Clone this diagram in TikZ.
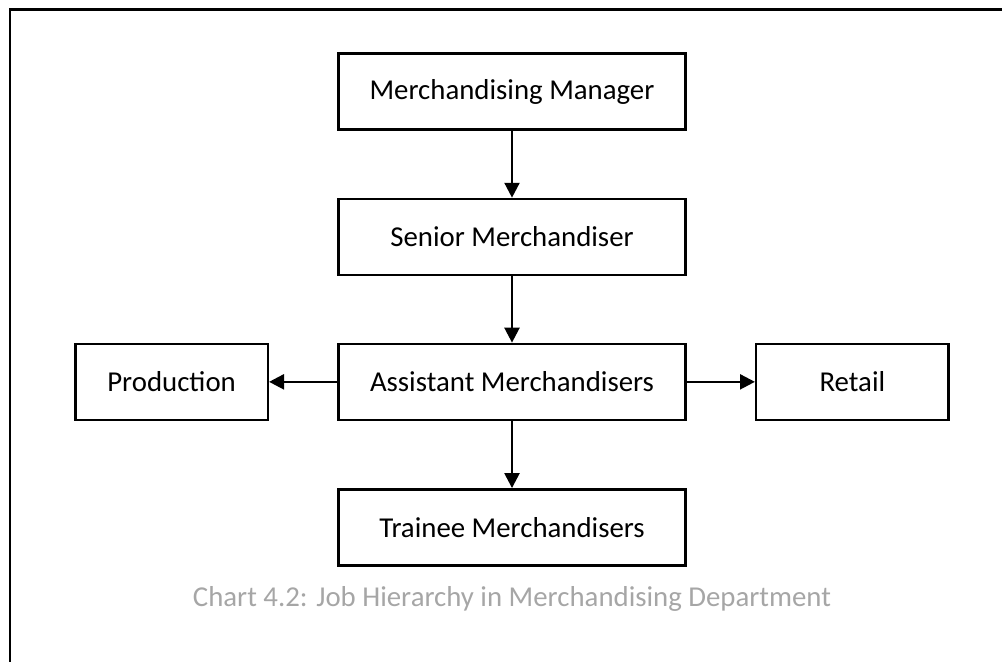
\documentclass[tikz,border=0pt]{standalone}
\usepackage{fontspec}
\setmainfont{Carlito}
\usetikzlibrary{arrows.meta, positioning}
\definecolor{capgray}{RGB}{166,166,166}

\begin{document}
\begin{tikzpicture}[x=0.02cm, y=0.02cm,
  job/.style={draw, line width=1.4pt, minimum width=6.95cm, minimum height=1.52cm,
    font=\fontsize{16.4}{20}\selectfont},
  side/.style={job, minimum width=3.85cm}]
  \useasboundingbox (0,0) rectangle (1002,662);
  \draw [line width=1.7pt] (1002,652) -- (10,652) -- (10,0);
  \node[job] (mgr) at (512,570.5) {Merchandising Manager};
  \node[job] (snr) [below = 1.34cm of mgr] {Senior Merchandiser};
  \node[job] (asst) [below = 1.33cm of snr] {Assistant Merchandisers};
  \node[side] (prod) [left = 1.36cm of asst] {Production};
  \node[side] (ret) [right = 1.36cm of asst] {Retail};
  \node[job] (trn) [below = 1.34cm of asst] {Trainee Merchandisers};
  \draw [->,line width=1.4pt,arrows={-Triangle[length=8.5pt,width=8.5pt]}] (mgr) -- (snr);
  \draw [->,line width=1.4pt,arrows={-Triangle[length=8.5pt,width=8.5pt]}] (snr) -- (asst);
  \draw [->,line width=1.4pt,arrows={-Triangle[length=8.5pt,width=8.5pt]}] (asst) -- (prod);
  \draw [->,line width=1.4pt,arrows={-Triangle[length=8.5pt,width=8.5pt]}] (asst) -- (ret);
  \draw [->,line width=1.4pt,arrows={-Triangle[length=8.5pt,width=8.5pt]}] (asst) -- (trn);
  \node[text=capgray, font=\fontsize{16.4}{20}\selectfont] (cap) at (512,63)
    {Chart 4.2: Job Hierarchy in Merchandising Department};
\end{tikzpicture}
\end{document}
